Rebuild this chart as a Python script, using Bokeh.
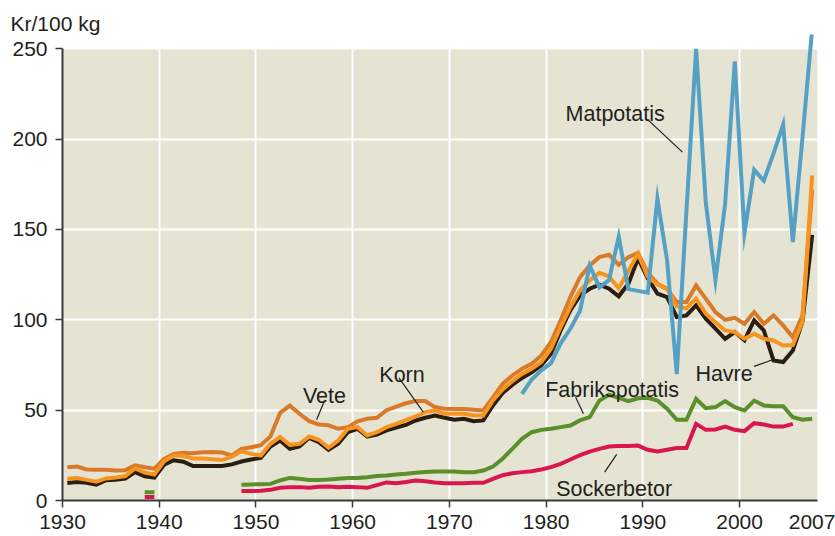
from bokeh.plotting import figure
from bokeh.models import Range1d, FixedTicker, BoxAnnotation, Label, LinearAxis
from bokeh.embed import file_html
from bokeh.resources import INLINE

# ---------------- data ----------------
years_grain = list(range(1930, 2008))
vete = [18.4, 18.8, 17.2, 17.0, 17.0, 16.6, 16.8, 19.5, 18.4, 17.6,
        23.0, 25.8, 26.4, 26.2, 26.7, 26.8, 26.6, 24.8, 28.6, 29.5,
        30.6, 35.5, 48.5, 52.5, 48.0, 43.9, 42.1, 41.6, 39.7, 40.6,
        43.8, 45.2, 45.8, 50.0, 52.0, 53.8, 55.0, 55.0, 51.7, 50.8,
        50.6, 50.6, 50.2, 49.8, 57.0, 64.6, 69.2, 72.9, 75.7, 80.3,
        87.7, 99.7, 112.6, 123.6, 130.1, 134.7, 136.0, 130.5, 134.7, 137.0,
        126.0, 120.0, 117.2, 109.8, 109.8, 119.0, 111.7, 104.3, 100.0, 101.1,
        97.8, 104.3, 97.8, 102.4, 96.9, 90.4, 102.4, 172.0]
korn = [12.0, 12.4, 11.4, 10.4, 12.2, 12.7, 13.5, 17.8, 15.4, 14.4,
        21.7, 25.0, 24.6, 23.3, 23.2, 22.8, 22.4, 24.2, 27.2, 25.8,
        24.9, 31.4, 35.2, 30.8, 31.4, 35.4, 33.6, 29.2, 33.2, 39.7,
        40.6, 36.0, 37.8, 40.6, 42.4, 44.5, 46.5, 48.9, 49.8, 48.0,
        48.0, 48.0, 47.1, 47.0, 55.4, 61.5, 66.0, 70.0, 72.9, 76.6,
        84.0, 96.0, 107.0, 116.3, 121.8, 126.0, 124.0, 117.5, 127.0, 136.5,
        124.0, 119.5, 117.0, 107.5, 106.3, 111.7, 103.4, 98.7, 94.1, 93.2,
        89.5, 92.3, 89.5, 88.6, 85.8, 86.0, 99.0, 180.0]
havre = [9.7, 10.2, 9.8, 8.8, 11.2, 11.5, 12.2, 15.7, 13.4, 12.7,
         19.8, 22.3, 21.5, 19.1, 19.1, 19.1, 19.1, 20.0, 21.6, 22.7,
         23.6, 29.9, 33.2, 28.6, 29.9, 34.7, 32.3, 28.1, 31.4, 37.8,
         39.7, 35.4, 36.5, 38.8, 40.4, 41.8, 44.3, 45.8, 47.0, 45.8,
         44.7, 45.2, 43.9, 44.3, 52.6, 59.5, 64.0, 67.8, 71.0, 74.8,
         81.2, 94.1, 105.2, 113.5, 117.2, 119.5, 117.2, 113.0, 120.0, 134.0,
         123.0, 114.5, 112.6, 101.5, 102.4, 108.0, 100.6, 95.1, 89.5, 93.2,
         88.6, 99.7, 94.1, 77.5, 76.6, 83.0, 99.0, 147.0]

years_matpotatis = list(range(1977, 2008))
matpotatis = [59, 67, 72, 76, 87, 95, 105, 130, 118, 122,
              146, 117, 116, 115, 167, 133, 70, 160, 250, 165,
              122, 164, 243, 148, 183, 177, 192, 208, 143, 201, 261]

years_fabrik = list(range(1948, 2008))
fabrikspotatis = [8.7, 8.9, 9.0, 9.2, 11.1, 12.5, 12.0, 11.4, 11.4, 11.6,
                  12.0, 12.4, 12.5, 12.9, 13.5, 13.8, 14.4, 14.8, 15.3, 15.8,
                  16.1, 16.1, 16.0, 15.7, 15.7, 16.6, 18.8, 23.1, 28.6, 34.1,
                  37.8, 39.1, 39.7, 40.6, 41.5, 44.3, 46.1, 55.3, 58.5, 56.8,
                  55.0, 56.6, 56.8, 55.3, 50.8, 44.7, 44.7, 56.2, 51.1, 51.7,
                  55.0, 51.7, 49.8, 55.3, 52.6, 52.2, 52.2, 46.1, 44.7, 45.3]

years_socker = list(range(1948, 2006))
sockerbetor = [5.2, 5.2, 5.4, 5.9, 7.0, 7.4, 7.4, 7.0, 7.6, 7.8,
               7.4, 7.6, 7.4, 7.0, 8.5, 10.0, 9.6, 10.2, 11.1, 10.7,
               10.0, 9.6, 9.6, 9.6, 9.8, 9.8, 12.0, 14.0, 15.1, 15.7,
               16.2, 17.2, 18.5, 20.3, 22.7, 25.1, 27.1, 28.6, 29.9, 30.1,
               30.1, 30.4, 28.1, 27.1, 28.1, 29.0, 29.0, 42.4, 39.1, 39.3,
               40.9, 39.1, 38.4, 42.8, 42.1, 40.9, 40.9, 42.4]

# single isolated observations (1939)
iso_year = [1939]
iso_fabrik = [4.6]
iso_socker = [2.0]

x_ticks = [1930, 1940, 1950, 1960, 1970, 1980, 1990, 2000]
last_year_tick = 2007.5
last_year_label = "2007"
y_ticks = [0, 50, 100, 150, 200, 250]
y_unit = "Kr/100 kg"

# ---------------- style ----------------
FONT = "Liberation Sans"
TXT = "#231f20"
BG = "#e5e4d3"
AX = "#3a3a3a"
C_VETE = "#d97a2b"
C_KORN = "#f7941e"
C_HAVRE = "#2a1e10"
C_MAT = "#55a0c5"
C_FAB = "#5a8f2b"
C_SOC = "#d9174f"
LW = 4

def xs(years):
    return [y + 0.5 for y in years]

p = figure(frame_width=755, frame_height=466,
           x_range=Range1d(1930, 2008.05), y_range=Range1d(0, 257.9),
           output_backend="svg", toolbar_location=None,
           min_border_left=62, min_border_right=18,
           min_border_top=34, min_border_bottom=30)
p.background_fill_color = "white"
p.border_fill_color = "white"
p.outline_line_color = None

p.title.text = y_unit
p.title.align = "left"
p.title.offset = -52
p.title.standoff = 0
p.title.text_font = FONT
p.title.text_font_size = "21px"
p.title.text_font_style = "normal"
p.title.text_color = TXT

p.add_layout(BoxAnnotation(bottom=0, top=250, fill_color=BG, fill_alpha=1,
                           line_color=None, level="image"))

xa = p.xaxis[0]
ya = p.yaxis[0]
for ax in (xa, ya):
    ax.axis_line_width = 2
    ax.axis_line_color = AX
    ax.major_tick_line_color = AX
    ax.major_tick_line_width = 1.5
    ax.major_tick_out = 7
    ax.major_tick_in = 0
    ax.minor_tick_line_color = None
    ax.major_label_text_font = FONT
    ax.major_label_text_font_size = "21px"
    ax.major_label_text_color = TXT

xa.ticker = FixedTicker(ticks=x_ticks)
xa.major_label_standoff = 7
ya.ticker = FixedTicker(ticks=y_ticks)
ya.bounds = (0, 250)
ya.major_label_standoff = 8

# extra bottom axis: only the "2007" label, pulled back up in line with the others
xl = LinearAxis(ticker=FixedTicker(ticks=[last_year_tick]),
                major_label_overrides={last_year_tick: last_year_label},
                axis_line_color=None, major_tick_line_color=None,
                minor_tick_line_color=None, major_tick_out=0, major_tick_in=0,
                major_label_standoff=-17, major_label_text_font=FONT,
                major_label_text_font_size="21px", major_label_text_color=TXT)
p.add_layout(xl, "below")

p.xgrid.ticker = FixedTicker(ticks=x_ticks)
p.xgrid.grid_line_color = "white"
p.ygrid.grid_line_color = "white"
p.xgrid.grid_line_width = 2
p.ygrid.grid_line_width = 2

# ---------------- series ----------------
p.line(xs(years_socker), sockerbetor, line_width=LW, color=C_SOC, line_join="miter")
p.line(xs(years_fabrik), fabrikspotatis, line_width=LW, color=C_FAB, line_join="miter")
p.segment(x0=[y - 0.5 for y in iso_year], x1=[y + 0.5 for y in iso_year],
          y0=iso_socker, y1=iso_socker, line_width=LW, color=C_SOC, line_cap="butt")
p.segment(x0=[y - 0.5 for y in iso_year], x1=[y + 0.5 for y in iso_year],
          y0=iso_fabrik, y1=iso_fabrik, line_width=LW, color=C_FAB, line_cap="butt")
p.line(xs(years_grain), havre, line_width=LW, color=C_HAVRE, line_join="miter")
p.line(xs(years_grain), vete, line_width=LW, color=C_VETE, line_join="miter")
p.line(xs(years_grain), korn, line_width=LW, color=C_KORN, line_join="miter")
p.line(xs(years_matpotatis), matpotatis, line_width=LW, color=C_MAT, line_join="miter")

# ---------------- annotations (label, text pos, leader start, leader end) ----------------
annotations = [
    ("Vete", 1957.08, 58.1, (1957.09, 55.4), (1956.27, 44.7)),
    ("Korn", 1965.10, 69.2, (1964.78, 67.9), (1967.30, 48.9)),
    ("Matpotatis", 1987.13, 214.0, (1990.47, 210.9), (1994.09, 192.8)),
    ("Havre", 1998.39, 70.1, (2001.49, 74.2), (2003.39, 77.9)),
    ("Fabrikspotatis", 1986.82, 61.3, (1983.05, 57.2), (1983.85, 48.0)),
    ("Sockerbetor", 1987.03, 6.1, (1986.05, 15.7), (1987.29, 25.5)),
]
for text, tx, ty, (lx0, ly0), (lx1, ly1) in annotations:
    p.add_layout(Label(x=tx, y=ty, text=text, text_font=FONT, text_font_size="21.5px",
                       text_color=TXT, text_align="center", text_baseline="alphabetic"))
p.segment(x0=[a[3][0] for a in annotations], y0=[a[3][1] for a in annotations],
          x1=[a[4][0] for a in annotations], y1=[a[4][1] for a in annotations],
          line_color=TXT, line_width=1.2)

open("out.html", "w").write(file_html(p, INLINE))
